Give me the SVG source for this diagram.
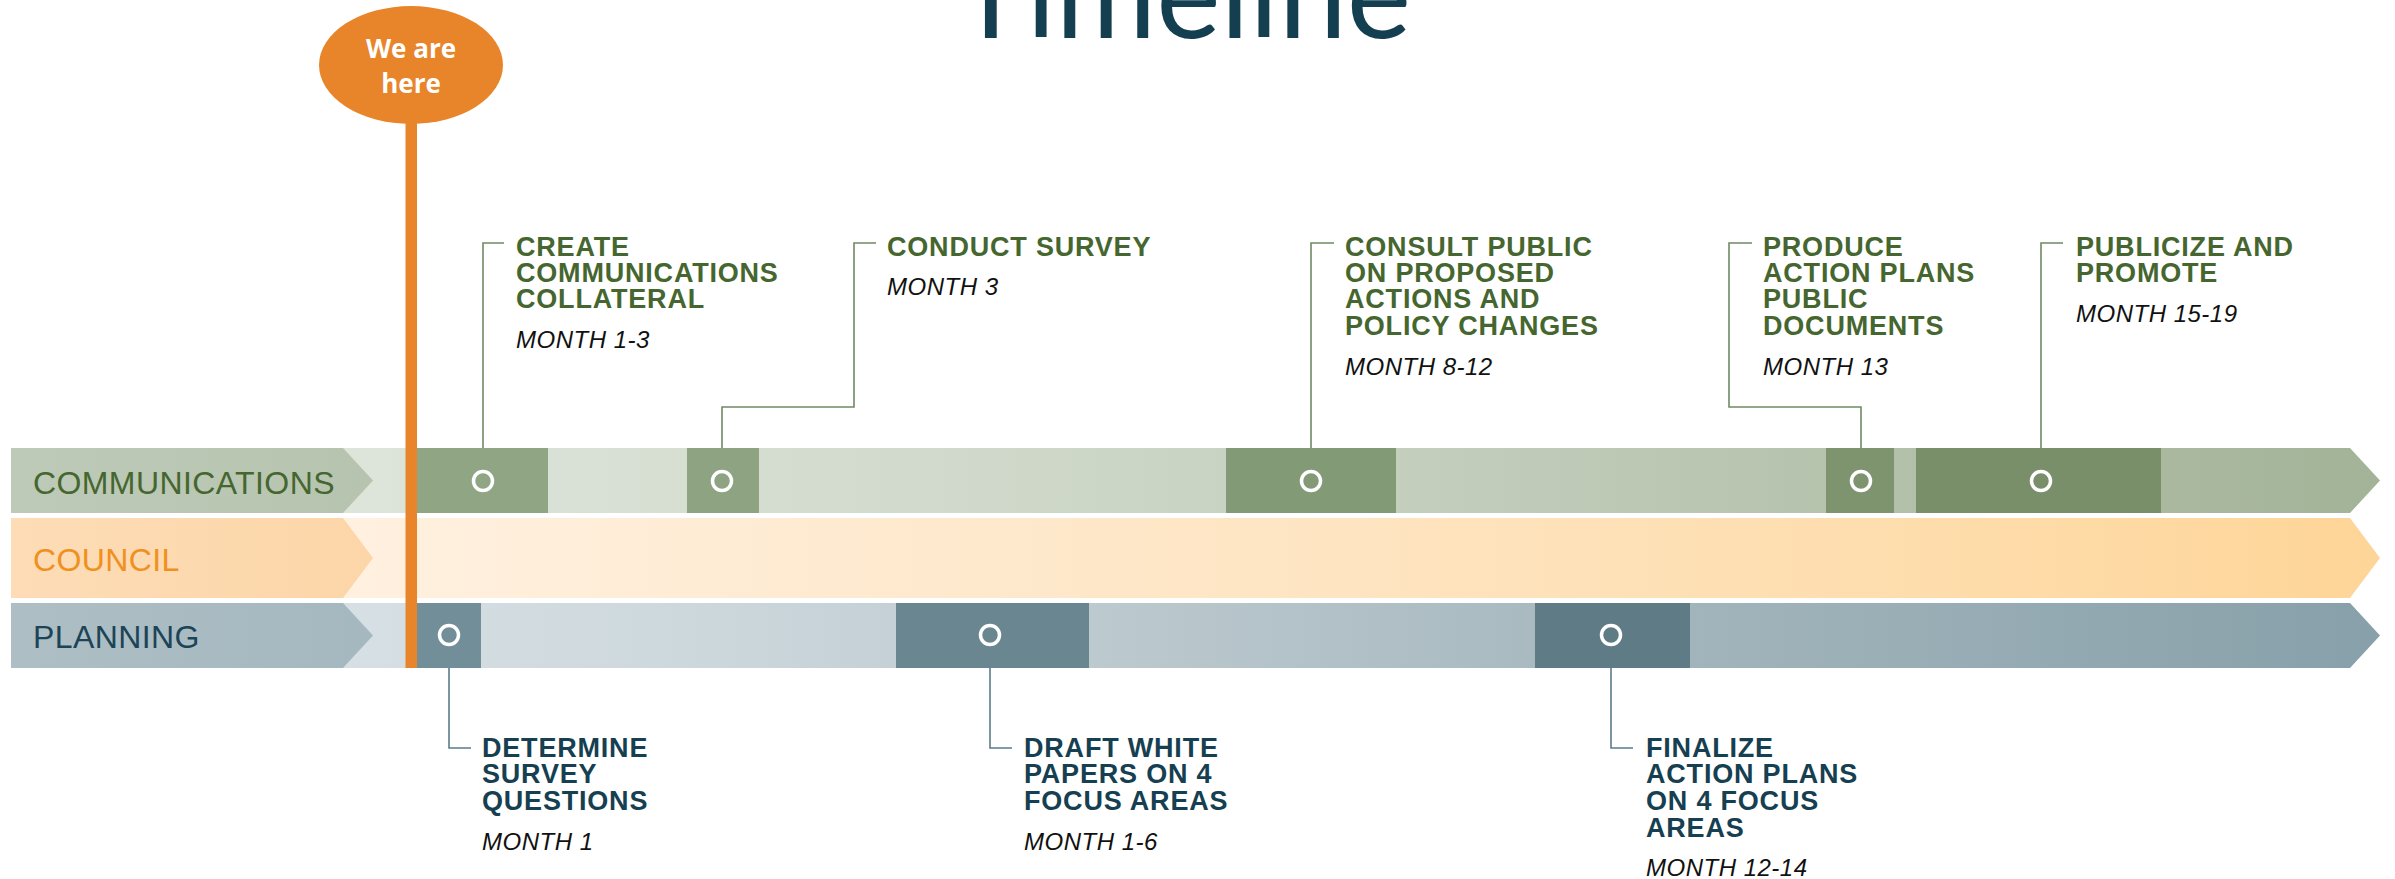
<svg xmlns="http://www.w3.org/2000/svg" width="2395" height="879" viewBox="0 0 2395 879">
<defs>
<linearGradient id="gComm" gradientUnits="userSpaceOnUse" x1="11" y1="0" x2="2380" y2="0">
<stop offset="0" stop-color="#e3e9e0"/><stop offset="0.15" stop-color="#dde4da"/><stop offset="0.3" stop-color="#d6ded2"/><stop offset="0.5" stop-color="#cad4c4"/><stop offset="0.7" stop-color="#bbc7b3"/><stop offset="0.9" stop-color="#aab9a0"/><stop offset="1" stop-color="#a3b398"/>
</linearGradient>
<linearGradient id="gCoun" gradientUnits="userSpaceOnUse" x1="11" y1="0" x2="2380" y2="0">
<stop offset="0" stop-color="#fff4e7"/><stop offset="0.15" stop-color="#fff0df"/><stop offset="0.5" stop-color="#fee6c6"/><stop offset="0.8" stop-color="#feddad"/><stop offset="1" stop-color="#fed598"/>
</linearGradient>
<linearGradient id="gPlan" gradientUnits="userSpaceOnUse" x1="11" y1="0" x2="2380" y2="0">
<stop offset="0" stop-color="#dae3e7"/><stop offset="0.15" stop-color="#d6dfe3"/><stop offset="0.3" stop-color="#ccd7dc"/><stop offset="0.5" stop-color="#b8c6cc"/><stop offset="0.7" stop-color="#a3b5bc"/><stop offset="1" stop-color="#87a0a9"/>
</linearGradient>
<linearGradient id="gCommL" x1="0" y1="0" x2="1" y2="0"><stop offset="0" stop-color="#bdcab8"/><stop offset="1" stop-color="#b6c4af"/></linearGradient>
<linearGradient id="gCounL" x1="0" y1="0" x2="1" y2="0"><stop offset="0" stop-color="#fddcb6"/><stop offset="1" stop-color="#fcd6a8"/></linearGradient>
<linearGradient id="gPlanL" x1="0" y1="0" x2="1" y2="0"><stop offset="0" stop-color="#adbec5"/><stop offset="1" stop-color="#a6b8bf"/></linearGradient>
</defs>
<style>
.title{font-family:Lato,"Open Sans","Liberation Sans",sans-serif;font-size:122px;fill:#143f51}
.row{font-family:"Liberation Sans",Arial,sans-serif;font-size:32px;letter-spacing:0.4px}
.ct{font-family:"Liberation Sans",Arial,sans-serif;font-weight:bold;font-size:27px;letter-spacing:0.8px;fill:#46662f}
.pt{font-family:"Liberation Sans",Arial,sans-serif;font-weight:bold;font-size:27px;letter-spacing:0.8px;fill:#163f51}
.mo{font-family:"Liberation Sans",Arial,sans-serif;font-style:italic;font-size:24px;letter-spacing:0.5px;fill:#111111}
.ring{fill:none;stroke:#ffffff;stroke-width:3.5}
.cc{fill:none;stroke:#6f8b63;stroke-width:1.6}
.pc{fill:none;stroke:#5c7c8a;stroke-width:1.6}
.here{font-family:"Open Sans","Liberation Sans",sans-serif;font-weight:bold;font-size:26px;fill:#ffffff;text-anchor:middle}
</style>
<rect width="2395" height="879" fill="#ffffff"/>
<text class="title" x="1183" y="38" text-anchor="middle">Timeline</text>

<g id="lane-communications">
<path d="M11 448 H2350 L2380 480.5 L2350 513 H11 Z" fill="url(#gComm)"/>
<path d="M11 448 H343 L373 480.5 L343 513 H11 Z" fill="url(#gCommL)"/>
<text class="row" x="33" y="494" fill="#46662f">COMMUNICATIONS</text>
</g>
<g id="lane-council">
<path d="M11 518 H2350 L2380 558 L2350 598 H11 Z" fill="url(#gCoun)"/>
<path d="M11 518 H343 L373 558 L343 598 H11 Z" fill="url(#gCounL)"/>
<text class="row" x="33" y="571" fill="#f0901e">COUNCIL</text>
</g>
<g id="lane-planning">
<path d="M11 603 H2350 L2380 635.5 L2350 668 H11 Z" fill="url(#gPlan)"/>
<path d="M11 603 H343 L373 635.5 L343 668 H11 Z" fill="url(#gPlanL)"/>
<text class="row" x="33" y="648" fill="#1c4457">PLANNING</text>
</g>

<g id="connectors">
<path class="cc" d="M483 470 V243 H504"/>
<path class="cc" d="M722 470 V407 H854 V243 H876"/>
<path class="cc" d="M1311 470 V243 H1334"/>
<path class="cc" d="M1861 470 V407 H1729 V243 H1752"/>
<path class="cc" d="M2041 470 V243 H2063"/>
<path class="pc" d="M449 646 V748 H471"/>
<path class="pc" d="M990 646 V748 H1012"/>
<path class="pc" d="M1611 646 V748 H1633"/>
</g>

<g id="task-create-collateral">
<rect x="417" y="448" width="131" height="65" fill="#8fa583"/>
<circle class="ring" cx="483" cy="481" r="9.5"/>
<text class="ct" x="516"><tspan x="516" y="256">CREATE</tspan><tspan x="516" y="282">COMMUNICATIONS</tspan><tspan x="516" y="308">COLLATERAL</tspan></text>
<text class="mo" x="516" y="348">MONTH 1-3</text>
</g>
<g id="task-conduct-survey">
<rect x="687" y="448" width="72" height="65" fill="#8da381"/>
<circle class="ring" cx="722" cy="481" r="9.5"/>
<text class="ct" x="887" y="256">CONDUCT SURVEY</text>
<text class="mo" x="887" y="295">MONTH 3</text>
</g>
<g id="task-consult-public">
<rect x="1226" y="448" width="170" height="65" fill="#839a77"/>
<circle class="ring" cx="1311" cy="481" r="9.5"/>
<text class="ct" x="1345"><tspan x="1345" y="256">CONSULT PUBLIC</tspan><tspan x="1345" y="282">ON PROPOSED</tspan><tspan x="1345" y="308">ACTIONS AND</tspan><tspan x="1345" y="335">POLICY CHANGES</tspan></text>
<text class="mo" x="1345" y="375">MONTH 8-12</text>
</g>
<g id="task-produce-plans">
<rect x="1826" y="448" width="68" height="65" fill="#7d946f"/>
<circle class="ring" cx="1861" cy="481" r="9.5"/>
<text class="ct" x="1763"><tspan x="1763" y="256">PRODUCE</tspan><tspan x="1763" y="282">ACTION PLANS</tspan><tspan x="1763" y="308">PUBLIC</tspan><tspan x="1763" y="335">DOCUMENTS</tspan></text>
<text class="mo" x="1763" y="375">MONTH 13</text>
</g>
<g id="task-publicize">
<rect x="1916" y="448" width="245" height="65" fill="#788f69"/>
<circle class="ring" cx="2041" cy="481" r="9.5"/>
<text class="ct" x="2076"><tspan x="2076" y="256">PUBLICIZE AND</tspan><tspan x="2076" y="282">PROMOTE</tspan></text>
<text class="mo" x="2076" y="322">MONTH 15-19</text>
</g>

<g id="task-determine-questions">
<rect x="417" y="603" width="64" height="65" fill="#728e99"/>
<circle class="ring" cx="449" cy="635" r="9.5"/>
<text class="pt" x="482"><tspan x="482" y="757">DETERMINE</tspan><tspan x="482" y="783">SURVEY</tspan><tspan x="482" y="810">QUESTIONS</tspan></text>
<text class="mo" x="482" y="850">MONTH 1</text>
</g>
<g id="task-draft-papers">
<rect x="896" y="603" width="193" height="65" fill="#6a8691"/>
<circle class="ring" cx="990" cy="635" r="9.5"/>
<text class="pt" x="1024"><tspan x="1024" y="757">DRAFT WHITE</tspan><tspan x="1024" y="783">PAPERS ON 4</tspan><tspan x="1024" y="810">FOCUS AREAS</tspan></text>
<text class="mo" x="1024" y="850">MONTH 1-6</text>
</g>
<g id="task-finalize-plans">
<rect x="1535" y="603" width="155" height="65" fill="#5e7b86"/>
<circle class="ring" cx="1611" cy="635" r="9.5"/>
<text class="pt" x="1646"><tspan x="1646" y="757">FINALIZE</tspan><tspan x="1646" y="783">ACTION PLANS</tspan><tspan x="1646" y="810">ON 4 FOCUS</tspan><tspan x="1646" y="837">AREAS</tspan></text>
<text class="mo" x="1646" y="876">MONTH 12-14</text>
</g>

<g id="we-are-here">
<rect x="405.5" y="110" width="11.5" height="558" fill="#e8852a"/>
<ellipse cx="411" cy="65" rx="92" ry="59" fill="#e8852a"/>
<text class="here"><tspan x="411" y="58">We are</tspan><tspan x="411" y="93">here</tspan></text>
</g>
</svg>
